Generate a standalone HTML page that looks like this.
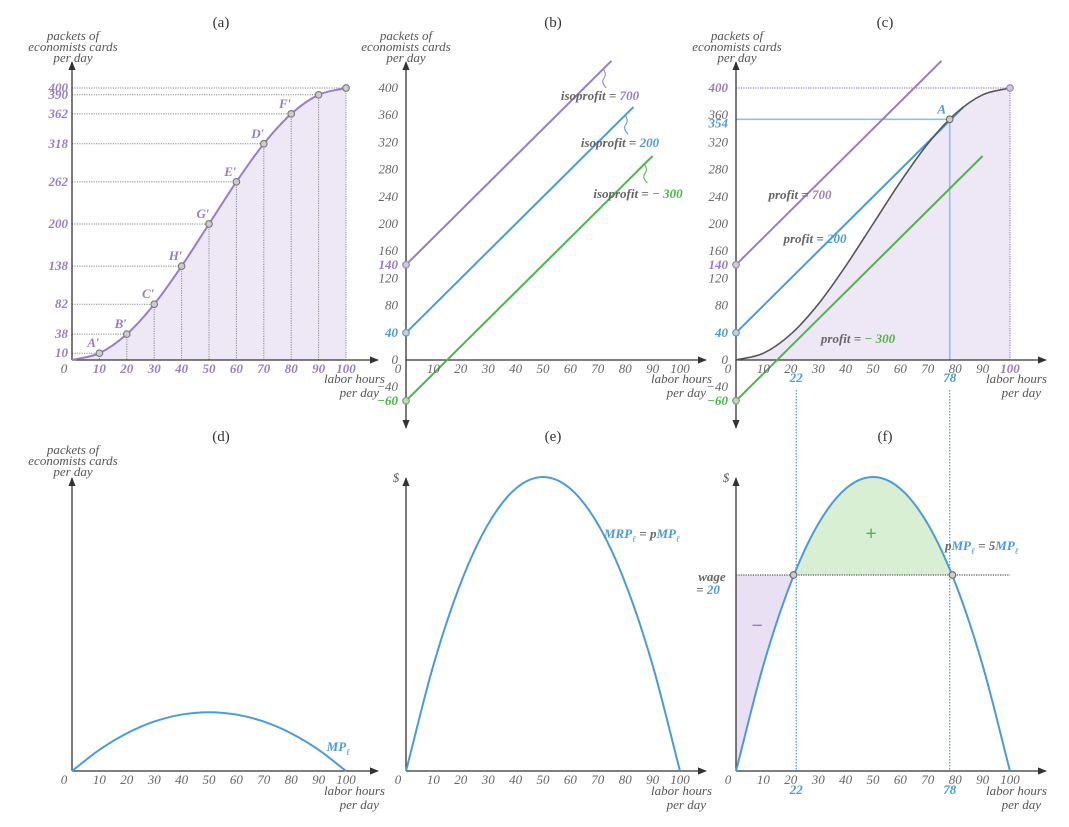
<!DOCTYPE html>
<html><head><meta charset="utf-8">
<style>
html,body{margin:0;padding:0;background:#fff;}
svg{display:block;}
text{font-family:"Liberation Serif",serif;font-style:italic;fill:#666;}
.ttl{font-style:normal;font-size:15px;fill:#333;}
.tk{font-size:13px;}
.ax{font-size:13px;fill:#555;}
.pu{fill:#9a7cc6;font-weight:bold;}
.bl{fill:#4a9bdc;font-weight:bold;}
.gr{fill:#4db54a;font-weight:bold;}
</style></head>
<body>
<svg id="fig" width="1069" height="827" viewBox="0 0 1069 827" xmlns="http://www.w3.org/2000/svg">
<defs>
<marker id="arr" viewBox="0 0 10 10" refX="9" refY="5" markerWidth="7" markerHeight="7" orient="auto-start-reverse"><path d="M0,1 L10,5 L0,9 z" fill="#333"/></marker>
</defs>
</svg>
<script>
// ---- data ----
const hours=[0,10,20,30,40,50,60,70,80,90,100];
const output=[0,10,38,82,138,200,262,318,362,390,400];
const pointLabels=['','A′','B′','C′','H′','G′','E′','D′','F′','',''];
const mpValues=[0,2.16,3.84,5.04,5.76,6,5.76,5.04,3.84,2.16,0];
const price=5;
const wage=20;
const isoProfits=[700,200,-300];
const isoIntercepts=[140,40,-60];
const isoEndHours=[75,83,90];
const optHours=78;
const optOutput=354;
const lowCross=22;
const yTicksTop=[0,80,120,160,200,240,280,320,360,400];
const yTicksNeg=[-40];

const NS='http://www.w3.org/2000/svg';
const svg=document.getElementById('fig');
const PURPLE='#9a7cc6',BLUE='#4a9bdc',GREEN='#4db54a';
function mk(tag,attrs,parent){const e=document.createElementNS(NS,tag);for(const k in attrs)e.setAttribute(k,attrs[k]);(parent||svg).appendChild(e);return e;}
function tx(x,y,s,cls,anchor,parent){const e=mk('text',{x:x,y:y,'class':cls||'tk','text-anchor':anchor||'middle'},parent);e.textContent=s;return e;}
const TOP_Y0=360, TOP_K=0.68, XK=2.74, BOT_Y0=771, BOT_K=9.8;
function xs(ox,v){return ox+v*XK;}
function yt(v){return TOP_Y0-v*TOP_K;}
function yb(v){return BOT_Y0-v*BOT_K;}
function smooth(p){
  const n=p.length;
  const ext=[[2*p[0][0]-p[1][0],2*p[0][1]-p[1][1]]].concat(p,[[2*p[n-1][0]-p[n-2][0],2*p[n-1][1]-p[n-2][1]]]);
  let d='M'+p[0][0]+','+p[0][1];
  for(let i=1;i<n;i++){const p0=ext[i-1],p1=ext[i],p2=ext[i+1],p3=ext[i+2];
    d+=' C'+(p1[0]+(p2[0]-p0[0])/6)+','+(p1[1]+(p2[1]-p0[1])/6)+' '+(p2[0]-(p3[0]-p1[0])/6)+','+(p2[1]-(p3[1]-p1[1])/6)+' '+p2[0]+','+p2[1];}
  return d;}

function axes(g,ox,oy,xEnd,yTop,yBot){
  const a=mk('line',{x1:ox,y1:yBot,x2:ox,y2:yTop,stroke:'#333','stroke-width':1.3,'marker-end':'url(#arr)','marker-start':yBot>oy+5?'url(#arr)':''},g);
  
  
  const b=mk('line',{x1:ox,y1:oy,x2:xEnd,y2:oy,stroke:'#333','stroke-width':1.3,'marker-end':'url(#arr)'},g);
  
  
}
function yTitle(g,x,y){
  const t1=tx(x,y,'packets of','ax','middle',g);
  
  
  tx(x,y+11,'economists cards','ax','middle',g);
  tx(x,y+22,'per day','ax','middle',g);
}
function xTitle(g,x,y){
  const t=tx(x,y,'labor hours','ax','end',g);
  
  
  tx(x-6,y+14,'per day','ax','end',g);
}
function xTicks(g,ox,oy,cls,skipLast){
  for(let i=1;i<hours.length;i++){
    const t=tx(xs(ox,hours[i]),oy+13,String(hours[i]),(i===hours.length-1&&skipLast)?skipLast:cls,'middle',g);
    
  }
  const z=tx(ox-8,oy+13,'0','tk','middle',g);
  
}
function title(x,y,s){const t=tx(x,y,s,'ttl');}
function circ(g,x,y,c){const e=mk('circle',{cx:x,cy:y,r:3.3,fill:'#ccc',stroke:c||'#777','stroke-width':1.1},g);return e;}

// ===== Panel (a) =====
const ga=mk('g',{});


title(221,27,'(a)');
yTitle(ga,73,40);
const ptsA=hours.map((h,i)=>[xs(72,h),yt(output[i])]);
const fa=mk('path',{d:smooth(ptsA)+' L'+xs(72,100)+','+TOP_Y0+' L72,'+TOP_Y0+' Z',fill:'#eee8f6'},ga);

for(let i=1;i<hours.length;i++){
  const px=xs(72,hours[i]),py=yt(output[i]);
  const h=mk('line',{x1:72,y1:py,x2:px,y2:py,stroke:'#888','stroke-width':1,'stroke-dasharray':'1.2 1.2'},ga);
  
  const v=mk('line',{x1:px,y1:py,x2:px,y2:TOP_Y0,stroke:'#888','stroke-width':1,'stroke-dasharray':'1.2 1.2'},ga);
  
  const yl=tx(68,py+4,String(output[i]),'tk pu','end',ga);
  
}
axes(ga,72,TOP_Y0,378,62,TOP_Y0);
const ca=mk('path',{d:smooth(ptsA),fill:'none',stroke:PURPLE,'stroke-width':2},ga);

for(let i=1;i<hours.length;i++){
  circ(ga,ptsA[i][0],ptsA[i][1]);
  if(pointLabels[i]){const l=tx(ptsA[i][0]-6,ptsA[i][1]-6,pointLabels[i],'tk pu','middle',ga);}
}
xTicks(ga,72,TOP_Y0,'tk pu');
xTitle(ga,385,383);

// ===== Panel (b) =====
const gb=mk('g',{});


title(553,27,'(b)');
yTitle(gb,406,40);
axes(gb,406,TOP_Y0,706,62,428);
for(const v of yTicksTop.concat(yTicksNeg)){const t=tx(398,yt(v)+4,String(v).replace('-','−'),'tk','end',gb);}
const isoCols=[PURPLE,BLUE,GREEN], isoCls=['pu','bl','gr'];
const isoLabelPos=[[600,100],[620,147],[638,198]];
for(let k=0;k<isoProfits.length;k++){
  const l=mk('line',{x1:406,y1:yt(isoIntercepts[k]),x2:xs(406,isoEndHours[k]),y2:yt(isoIntercepts[k]+wage/price*isoEndHours[k]),stroke:isoCols[k],'stroke-width':2},gb);
  
  const it=tx(398,yt(isoIntercepts[k])+4,String(isoIntercepts[k]).replace('-','−'),'tk '+isoCls[k],'end',gb);
  
  circ(gb,406,yt(isoIntercepts[k]),isoCols[k]);
  const lb=mk('text',{x:isoLabelPos[k][0],y:isoLabelPos[k][1],'class':'tk','text-anchor':'middle','font-weight':'bold'},gb);
  
  lb.innerHTML='isoprofit = <tspan class="'+isoCls[k]+'">'+String(isoProfits[k]).replace('-','− ')+'</tspan>';
  const ex=xs(406,isoEndHours[k]-3), ey=yt(isoIntercepts[k]+4*(isoEndHours[k]-3));
  const ar=mk('path',{d:'M'+ex+','+ey+' q4,6 0,10 q-2,4 3,9',fill:'none',stroke:isoCols[k],'stroke-width':1},gb);
  
}
xTicks(gb,406,TOP_Y0,'tk');
xTitle(gb,712,383);

// ===== Panel (c) =====
const gc=mk('g',{});


title(885,27,'(c)');
yTitle(gc,737,40);
const ptsC=hours.map((h,i)=>[xs(736,h),yt(output[i])]);
const fc=mk('path',{d:smooth(ptsC)+' L'+xs(736,100)+','+TOP_Y0+' Z',fill:'#eee8f6'},gc);

const ph=mk('line',{x1:736,y1:yt(400),x2:xs(736,100),y2:yt(400),stroke:PURPLE,'stroke-width':1.2,'stroke-dasharray':'1.2 1.2'},gc);

const pv=mk('line',{x1:xs(736,100),y1:yt(400),x2:xs(736,100),y2:TOP_Y0,stroke:PURPLE,'stroke-width':1.2,'stroke-dasharray':'1.2 1.2'},gc);

const oh=mk('line',{x1:736,y1:yt(optOutput),x2:xs(736,optHours),y2:yt(optOutput),stroke:'#8cc0ea','stroke-width':1.6},gc);

const ov=mk('line',{x1:xs(736,optHours),y1:yt(optOutput),x2:xs(736,optHours),y2:TOP_Y0,stroke:'#8cc0ea','stroke-width':1.6},gc);

axes(gc,736,TOP_Y0,1046,62,428);
for(const v of yTicksTop.concat(yTicksNeg)){if(v===400)continue;const t=tx(728,yt(v)+4,String(v).replace('-','−'),'tk','end',gc);}
const t400=tx(728,yt(400)+4,'400','tk pu','end',gc);
const t354=tx(728,yt(optOutput)+8,String(optOutput),'tk bl','end',gc);
const profLabelPos=[[800,199],[815,243],[858,343]];
for(let k=0;k<isoProfits.length;k++){
  const l=mk('line',{x1:736,y1:yt(isoIntercepts[k]),x2:xs(736,isoEndHours[k]),y2:yt(isoIntercepts[k]+wage/price*isoEndHours[k]),stroke:isoCols[k],'stroke-width':2},gc);
  
  const it=tx(728,yt(isoIntercepts[k])+4,String(isoIntercepts[k]).replace('-','−'),'tk '+isoCls[k],'end',gc);
  
  circ(gc,736,yt(isoIntercepts[k]),isoCols[k]);
  const lb=mk('text',{x:profLabelPos[k][0],y:profLabelPos[k][1],'class':'tk','text-anchor':'middle','font-weight':'bold'},gc);
  
  lb.innerHTML='profit = <tspan class="'+isoCls[k]+'">'+String(isoProfits[k]).replace('-','− ')+'</tspan>';
}
const cc=mk('path',{d:smooth(ptsC),fill:'none',stroke:'#555','stroke-width':1.6},gc);

circ(gc,xs(736,100),yt(400),PURPLE);
circ(gc,xs(736,optHours),yt(optOutput),'#666');
const aL=tx(xs(736,optHours)-8,yt(optOutput)-6,'A','tk bl','middle',gc);
xTicks(gc,736,TOP_Y0,'tk','tk pu');
const l22=tx(xs(736,lowCross),382,String(lowCross),'tk bl','middle',gc);
const l78=tx(xs(736,optHours),382,String(optHours),'tk bl','middle',gc);
xTitle(gc,1047,383);
for(const h of [lowCross,optHours]){
  const d=mk('line',{x1:xs(736,h),y1:390,x2:xs(736,h),y2:BOT_Y0,stroke:BLUE,'stroke-width':1.2,'stroke-dasharray':'1.5 1.5'});
  
}

// ===== Panel (d) =====
const gd=mk('g',{});


title(221,441,'(d)');
yTitle(gd,73,454);
axes(gd,72,BOT_Y0,378,478,BOT_Y0);
const ptsD=hours.map((h,i)=>[xs(72,h),yb(mpValues[i])]);
const cd=mk('path',{d:smooth(ptsD),fill:'none',stroke:BLUE,'stroke-width':2},gd);

const mpl=mk('text',{x:350,y:751,'class':'tk bl','text-anchor':'end'},gd);

mpl.innerHTML='MP<tspan font-size="9" dy="4">ℓ</tspan>';
xTicks(gd,72,BOT_Y0,'tk');
xTitle(gd,385,795);

// ===== Panel (e) =====
const ge=mk('g',{});


title(553,441,'(e)');
const de=tx(396,482,'$','ax','middle',ge);
axes(ge,406,BOT_Y0,706,478,BOT_Y0);
const ptsE=hours.map((h,i)=>[xs(406,h),yb(mpValues[i]*price)]);
const ce=mk('path',{d:smooth(ptsE),fill:'none',stroke:BLUE,'stroke-width':2},ge);

const mrl=mk('text',{x:604,y:538,'class':'tk','font-weight':'bold','text-anchor':'start'},ge);

mrl.innerHTML='<tspan class="bl">MRP</tspan><tspan class="bl" font-size="9" dy="4">ℓ</tspan><tspan dy="-4"> = p</tspan><tspan class="bl">MP</tspan><tspan class="bl" font-size="9" dy="4">ℓ</tspan>';
xTicks(ge,406,BOT_Y0,'tk');
xTitle(ge,712,795);

// ===== Panel (f) =====
const gf=mk('g',{});


title(885,441,'(f)');
const ptsF=hours.map((h,i)=>[xs(736,h),yb(mpValues[i]*price)]);
const areaF=smooth(ptsF)+' Z';
const defs=svg.querySelector('defs');
const cp=mk('clipPath',{id:'underMrp'},defs);
mk('path',{d:areaF},cp);
const mkK=mk('mask',{id:'overMrp'},defs);
mk('rect',{x:0,y:0,width:1069,height:827,fill:'#fff'},mkK);
mk('path',{d:areaF,fill:'#000'},mkK);
const gain=mk('rect',{x:736,y:470,width:xs(736,100)-736,height:yb(wage)-470,fill:'#d9efd3','clip-path':'url(#underMrp)'},gf);

const loss=mk('rect',{x:736,y:yb(wage),width:xs(736,lowCross)-736,height:BOT_Y0-yb(wage),fill:'#e9e1f3',mask:'url(#overMrp)'},gf);

const dol=tx(726,482,'$','ax','middle',gf);
axes(gf,736,BOT_Y0,1046,478,BOT_Y0);
const wl=mk('line',{x1:736,y1:yb(wage),x2:xs(736,100),y2:yb(wage),stroke:'#555','stroke-width':1.2,'stroke-dasharray':'1.2 1.2'},gf);

const cf=mk('path',{d:smooth(ptsF),fill:'none',stroke:BLUE,'stroke-width':2},gf);

circ(gf,xs(736,lowCross-1),yb(wage),'#666');
circ(gf,xs(736,optHours+1),yb(wage),'#666');
const w1=tx(712,581,'wage','tk','middle',gf);w1.setAttribute('font-weight','bold');
const w2=mk('text',{x:708,y:594,'class':'tk','text-anchor':'middle','font-weight':'bold'},gf);
w2.innerHTML='= <tspan class="bl">'+wage+'</tspan>';
const plus=tx(871,540,'+','gr','middle',gf);plus.setAttribute('font-size','20');plus.setAttribute('font-style','normal');
const minus=tx(757,632,'−','pu','middle',gf);minus.setAttribute('font-size','20');minus.setAttribute('font-style','normal');
const pml=mk('text',{x:945,y:550,'class':'tk','font-weight':'bold','text-anchor':'start'},gf);

pml.innerHTML='p<tspan class="bl">MP</tspan><tspan class="bl" font-size="9" dy="4">ℓ</tspan><tspan dy="-4"> = 5</tspan><tspan class="bl">MP</tspan><tspan class="bl" font-size="9" dy="4">ℓ</tspan>';
xTicks(gf,736,BOT_Y0,'tk');
const b22=tx(xs(736,lowCross),794,String(lowCross),'tk bl','middle',gf);
const b78=tx(xs(736,optHours),794,String(optHours),'tk bl','middle',gf);
xTitle(gf,1047,795);
</script>
</body></html>
